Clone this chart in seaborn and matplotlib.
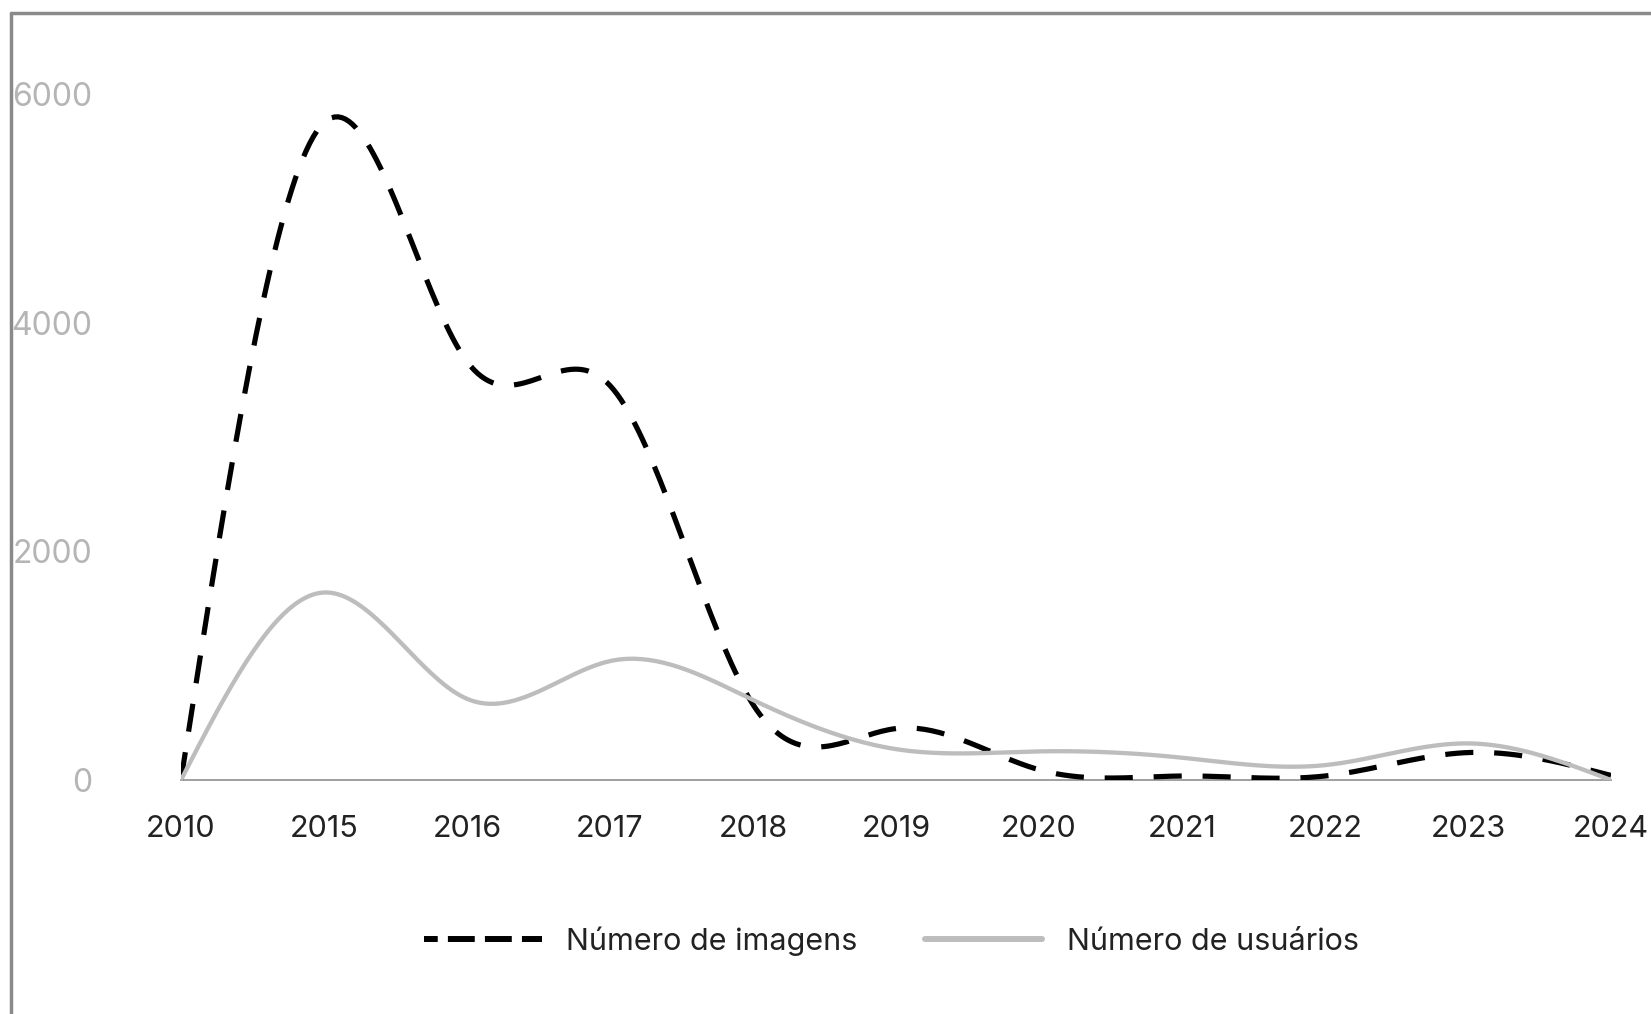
import numpy as np
import pandas as pd
import matplotlib
matplotlib.use("Agg")
import matplotlib.pyplot as plt
from matplotlib.lines import Line2D
import seaborn as sns

YEARS = ["2010", "2015", "2016", "2017", "2018", "2019",
         "2020", "2021", "2022", "2023", "2024"]
IMAGENS = [0, 5750, 3660, 3450, 660, 450, 90, 35, 35, 240, 40]
USUARIOS = [0, 1640, 710, 1040, 700, 270, 250, 195, 130, 320, 0]
SERIES = ["Número de imagens", "Número de usuários"]
YTICKS = [0, 2000, 4000, 6000]


def smooth(values, steps=40):
    # natural cubic spline through the points, only for drawing the curve
    y = np.asarray(values, dtype=float)
    n = len(y)
    A = np.zeros((n, n))
    b = np.zeros(n)
    A[0, 0] = A[-1, -1] = 1
    for i in range(1, n - 1):
        A[i, i - 1:i + 2] = [1, 4, 1]
        b[i] = 6 * (y[i + 1] - 2 * y[i] + y[i - 1])
    M = np.linalg.solve(A, b)
    xs, ys = [], []
    for i in range(n - 1):
        t = np.linspace(0, 1, steps, endpoint=(i == n - 2))
        s = (M[i] * (1 - t) ** 3 / 6 + M[i + 1] * t ** 3 / 6
             + (y[i] - M[i] / 6) * (1 - t) + (y[i + 1] - M[i + 1] / 6) * t)
        xs.extend(i + t)
        ys.extend(s)
    return np.array(xs), np.array(ys)


frames = []
for name, vals in zip(SERIES, [IMAGENS, USUARIOS]):
    xs, ys = smooth(vals)
    frames.append(pd.DataFrame({"x": xs, "y": ys, "serie": name}))
df = pd.concat(frames, ignore_index=True)

sns.set_theme(style="white")
plt.rcParams["font.family"] = ["Inter", "DejaVu Sans"]

fig = plt.figure(figsize=(16.51, 10.14), dpi=100)
ax = fig.add_axes([181 / 1651, 234 / 1014, 1430 / 1651, 686 / 1014])

sns.lineplot(
    data=df, x="x", y="y", hue="serie",
    palette={SERIES[0]: "#000000", SERIES[1]: "#bdbdbd"},
    legend=False, ax=ax, sort=False,
)
dash_line, grey_line = ax.lines[0], ax.lines[1]
dash_line.set_linewidth(3.75)
dash_line.set_dashes([5.4, 4.0])
dash_line.set_dash_capstyle("butt")
grey_line.set_linewidth(3.1)

ax.set_xlim(0, len(YEARS) - 1)
ax.set_ylim(0, 6000)
ax.set_xticks(range(len(YEARS)))
ax.set_xticklabels(YEARS)
ax.set_yticks(YTICKS)
ax.set_yticklabels([str(v) for v in YTICKS])
ax.set_xlabel("")
ax.set_ylabel("")
ax.tick_params(axis="x", length=0, pad=25, labelsize=22, labelcolor="#222222")
ax.tick_params(axis="y", length=0, pad=64, labelsize=23, labelcolor="#b5b5b5")
for side in ["top", "right", "left"]:
    ax.spines[side].set_visible(False)
ax.spines["bottom"].set_color("#999999")
ax.spines["bottom"].set_linewidth(1.3)
ax.spines["bottom"].set_zorder(0)

handles = [
    Line2D([], [], color="#000000", linewidth=4.3, linestyle=(2.2, (4.5, 1.7))),
    Line2D([], [], color="#bdbdbd", linewidth=4.3),
]
fig.legend(
    handles, SERIES, loc="center", bbox_to_anchor=(0.540, 1 - 941 / 1014),
    ncol=2, frameon=False, fontsize=22, handlelength=3.85, handletextpad=0.8,
    columnspacing=2.2, labelcolor="#222222",
)

# grey frame around the picture (left and top edges visible)
fig.add_artist(Line2D([11 / 1651, 11 / 1651], [0, 1 - 13 / 1014],
                      transform=fig.transFigure, color="#8a8a8a", linewidth=2.5))
fig.add_artist(Line2D([11 / 1651, 1], [1 - 13 / 1014, 1 - 13 / 1014],
                      transform=fig.transFigure, color="#8a8a8a", linewidth=2.5))

fig.savefig("out.png", dpi=100)
plt.close(fig)
